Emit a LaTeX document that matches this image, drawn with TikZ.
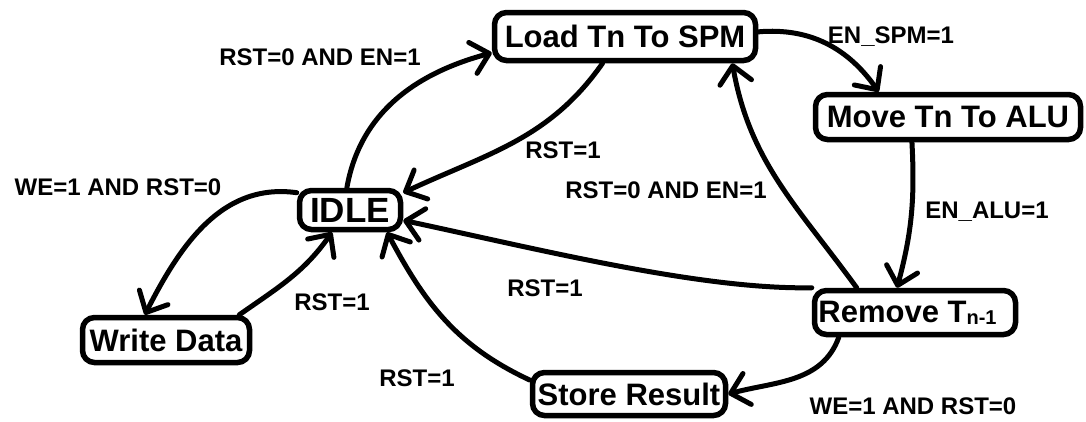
\documentclass[tikz,border=0pt]{standalone}
\usepackage{fontspec}
\setmainfont{Liberation Sans}
\usetikzlibrary{arrows.meta}
\begin{document}
\begin{tikzpicture}[x=1pt,y=-1pt,
  state/.style={draw, line width=5.5pt, rounded corners=12pt, inner sep=0pt,
    fill=white, font=\fontsize{31}{31}\selectfont\bfseries},
  cond/.style={inner sep=0pt, font=\fontsize{24}{24}\selectfont\bfseries},
  trans/.style={line width=5pt, line cap=round,
    -{Straight Barb[length=17pt,width=32pt,round]}}
]
\useasboundingbox (0,0) rectangle (1086,421);

% states
\node[state, minimum width=261pt, minimum height=48pt] (load) at (625,36.5) {Load Tn To SPM};
\node[state, minimum width=265pt, minimum height=45pt] (move) at (948,117) {Move Tn To ALU};
\node[state, minimum width=101pt, minimum height=39pt,
      font=\fontsize{35}{35}\selectfont\bfseries] (idle) at (350,210) {IDLE};
\node[state, minimum width=201pt, minimum height=44pt] (remove) at (915,312.5)
      {Remove T\raisebox{-2pt}{\fontsize{20}{20}\selectfont n-1}\hspace*{15pt}};
\node[state, minimum width=193pt, minimum height=43pt] (store) at (629,394) {Store Result};
\node[state, minimum width=167pt, minimum height=45pt] (write) at (166,340) {Write Data};

% transitions
\draw[trans] (idle.98) to[out=80,in=195] (load.187);
\draw[trans] (load.230) to[out=235,in=25] (idle.18);
\draw[trans] (load.2) to[out=5,in=125] (move.160);
\draw[trans] (move.215) to[out=-87,in=75] (remove.126);
\draw[trans] (remove.157) to[out=126,in=-80] (load.346);
\draw[trans] (remove.north west) .. controls +(-110,2) and +(140,30) .. (idle.349);
\draw[trans] (remove.198) to[out=-110,in=15] (store.east);
\draw[trans] (store.172) to[out=155,in=-62] (idle.329);
\draw[trans] (idle.162) to[out=172,in=63] (write.130);
\draw[trans] (write.19) to[out=35,in=-125] (idle.231);

% conditions
\node[cond] (c1) at (320,57) {RST=0 AND EN=1};
\node[cond] (c2) at (891,37) {EN\_SPM=1};
\node[cond] (c3) at (563,150) {RST=1};
\node[cond] (c4) at (666,190) {RST=0 AND EN=1};
\node[cond] (c5) at (118,187) {WE=1 AND RST=0};
\node[cond] (c6) at (987,212) {EN\_ALU=1};
\node[cond] (c7) at (545,288) {RST=1};
\node[cond] (c8) at (332,302) {RST=1};
\node[cond] (c9) at (417,378) {RST=1};
\node[cond] (c10) at (913,406) {WE=1 AND RST=0};
\end{tikzpicture}
\end{document}
